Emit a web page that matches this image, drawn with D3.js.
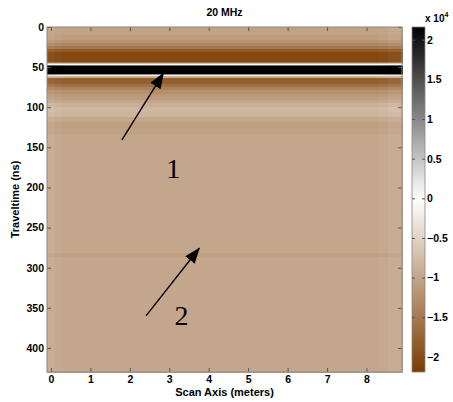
<!DOCTYPE html>
<html>
<head>
<meta charset="utf-8">
<script src="https://cdn.jsdelivr.net/npm/d3@7"></script>
<style>
  body { margin: 0; background: #fff; }
  svg text { font-family: "Liberation Sans", Arial, sans-serif; }
</style>
</head>
<body>
<div id="chart"></div>
<script>
// band edges along traveltime (ns) and the amplitude (x 10^4) of each band
const bandEdges = [0, 10, 16, 20, 24, 28, 31, 43, 44.5, 45.5, 47.5, 48.5, 58, 59.3, 61.5, 63, 67, 71, 75, 79, 83, 87, 91, 95, 100, 106, 112, 118, 126, 135, 282, 287, 430];
const bandValues = [-1.05, -1.1, -1.2, -1.35, -1.55, -1.85, -2.05, -1.6, -0.7, -0.05, 1.2, 2.15, 1.0, 0.1, -0.9, -1.8, -1.8, -1.6, -1.4, -1.25, -1.15, -1.1, -1.0, -0.9, -0.8, -0.85, -1.0, -1.08, -1.05, -1.0, -1.06, -1.0];

// column edges along scan axis (m) and a small amplitude shift per column strip
const colEdges = [-0.1, 0.1, 0.3, 8.3, 8.55, 8.9];
const colShift = [0.08, 0.03, 0, 0.03, 0.08];

const xTicks = [0, 1, 2, 3, 4, 5, 6, 7, 8];
const yTicks = [0, 50, 100, 150, 200, 250, 300, 350, 400];
const cbTicks = [-2, -1.5, -1, -0.5, 0, 0.5, 1, 1.5, 2];
const cbDomain = [-2.19, 2.16];

// annotations: arrow start / tip in data coordinates, and the numbered labels
const arrowStart = [[1.80, 140.8], [2.41, 360]];
const arrowTip = [[2.85, 57.7], [3.76, 275.8]];
const noteLabels = ["1", "2"];
const notePos = [[3.10, 188], [3.31, 371]];

const width = 453, height = 402;
const margin = { top: 27, right: 51, bottom: 30, left: 47 };
const plotW = width - margin.left - margin.right; // 355
const plotH = height - margin.top - margin.bottom; // 345

const svg = d3.select("#chart").append("svg")
  .attr("width", width)
  .attr("height", height);

const x = d3.scaleLinear().domain([-0.1, 8.9]).range([margin.left, margin.left + plotW]);
const y = d3.scaleLinear().domain([0, 430]).range([margin.top, margin.top + plotH]);

const color = d3.scaleLinear()
  .domain([cbDomain[0], 0, cbDomain[1]])
  .range(["#7c3c00", "#ffffff", "#000000"])
  .clamp(true);

// heatmap cells
const cells = [];
bandValues.forEach((v, i) => {
  colShift.forEach((s, j) => {
    cells.push({ t0: bandEdges[i], t1: bandEdges[i + 1], x0: colEdges[j], x1: colEdges[j + 1], v: v + s });
  });
});

svg.append("g")
  .attr("shape-rendering", "crispEdges")
  .selectAll("rect")
  .data(cells)
  .join("rect")
  .attr("x", d => x(d.x0))
  .attr("y", d => y(d.t0))
  .attr("width", d => x(d.x1) - x(d.x0) + 0.5)
  .attr("height", d => y(d.t1) - y(d.t0) + 0.5)
  .attr("fill", d => color(d.v));

// axes (MATLAB style: ticks pointing inward, mirrored on top/right)
const tickLen = 4;
function styleAxis(g) {
  g.select(".domain").remove();
  g.selectAll(".tick line").attr("stroke", "#555");
  g.selectAll("text")
    .attr("fill", "#000")
    .style("font-size", "10.5px")
    .style("font-weight", "bold");
}

svg.append("g")
  .attr("transform", `translate(0,${margin.top + plotH})`)
  .call(d3.axisBottom(x).tickValues(xTicks).tickSize(-tickLen).tickPadding(4))
  .call(styleAxis);

svg.append("g")
  .attr("transform", `translate(0,${margin.top})`)
  .call(d3.axisTop(x).tickValues(xTicks).tickSize(-tickLen).tickFormat(""))
  .call(styleAxis);

svg.append("g")
  .attr("transform", `translate(${margin.left},0)`)
  .call(d3.axisLeft(y).tickValues(yTicks).tickSize(-tickLen).tickPadding(3))
  .call(styleAxis);

svg.append("g")
  .attr("transform", `translate(${margin.left + plotW},0)`)
  .call(d3.axisRight(y).tickValues(yTicks).tickSize(-tickLen).tickFormat(""))
  .call(styleAxis);

svg.append("rect")
  .attr("x", margin.left).attr("y", margin.top)
  .attr("width", plotW).attr("height", plotH)
  .attr("fill", "none").attr("stroke", "#888").attr("stroke-width", 1);

// titles
svg.append("text")
  .attr("x", margin.left + plotW / 2).attr("y", 16)
  .attr("text-anchor", "middle")
  .style("font-size", "10.5px").style("font-weight", "bold")
  .text("20 MHz");

svg.append("text")
  .attr("x", margin.left + plotW / 2).attr("y", 396)
  .attr("text-anchor", "middle")
  .style("font-size", "11px").style("font-weight", "bold")
  .text("Scan Axis (meters)");

svg.append("text")
  .attr("transform", `translate(19,${margin.top + plotH / 2}) rotate(-90)`)
  .attr("text-anchor", "middle")
  .style("font-size", "11px").style("font-weight", "bold")
  .text("Traveltime (ns)");

// annotations
const defs = svg.append("defs");
defs.append("marker")
  .attr("id", "head")
  .attr("viewBox", "0 0 16 12")
  .attr("refX", 15).attr("refY", 6)
  .attr("markerWidth", 16).attr("markerHeight", 12)
  .attr("markerUnits", "userSpaceOnUse")
  .attr("orient", "auto")
  .append("path")
  .attr("d", "M0,0 L16,6 L0,12 Z")
  .attr("fill", "#000");

arrowStart.forEach((s, i) => {
  svg.append("line")
    .attr("x1", x(s[0])).attr("y1", y(s[1]))
    .attr("x2", x(arrowTip[i][0])).attr("y2", y(arrowTip[i][1]))
    .attr("stroke", "#000").attr("stroke-width", 1.4)
    .attr("marker-end", "url(#head)");
});

svg.selectAll(".note")
  .data(noteLabels)
  .join("text")
  .attr("class", "note")
  .attr("x", (d, i) => x(notePos[i][0]))
  .attr("y", (d, i) => y(notePos[i][1]))
  .attr("text-anchor", "middle")
  .style("font-family", "'Liberation Serif', 'Times New Roman', serif")
  .style("font-size", "28px")
  .text(d => d);

// colorbar
const cbX = 412, cbW = 13;
const cb = d3.scaleLinear().domain(cbDomain).range([margin.top + plotH, margin.top]);

const grad = defs.append("linearGradient")
  .attr("id", "cbgrad")
  .attr("x1", 0).attr("y1", 1).attr("x2", 0).attr("y2", 0);
d3.range(0, 1.0001, 0.05).forEach(f => {
  const v = cbDomain[0] + f * (cbDomain[1] - cbDomain[0]);
  grad.append("stop").attr("offset", f).attr("stop-color", color(v));
});

svg.append("rect")
  .attr("x", cbX).attr("y", margin.top)
  .attr("width", cbW).attr("height", plotH)
  .attr("fill", "url(#cbgrad)")
  .attr("stroke", "#888").attr("stroke-width", 0.8);

svg.append("g")
  .attr("transform", `translate(${cbX + cbW},0)`)
  .call(d3.axisRight(cb).tickValues(cbTicks).tickSize(-3).tickPadding(2).tickFormat(d3.format("")))
  .call(styleAxis);

svg.append("g")
  .attr("transform", `translate(${cbX},0)`)
  .call(d3.axisLeft(cb).tickValues(cbTicks).tickSize(-3).tickFormat(""))
  .call(styleAxis);

const expo = svg.append("text")
  .attr("x", 425).attr("y", 22)
  .style("font-size", "10px").style("font-weight", "bold");
expo.append("tspan").text("x 10");
expo.append("tspan").attr("dy", -5).style("font-size", "7px").text("4");
</script>
</body>
</html>
